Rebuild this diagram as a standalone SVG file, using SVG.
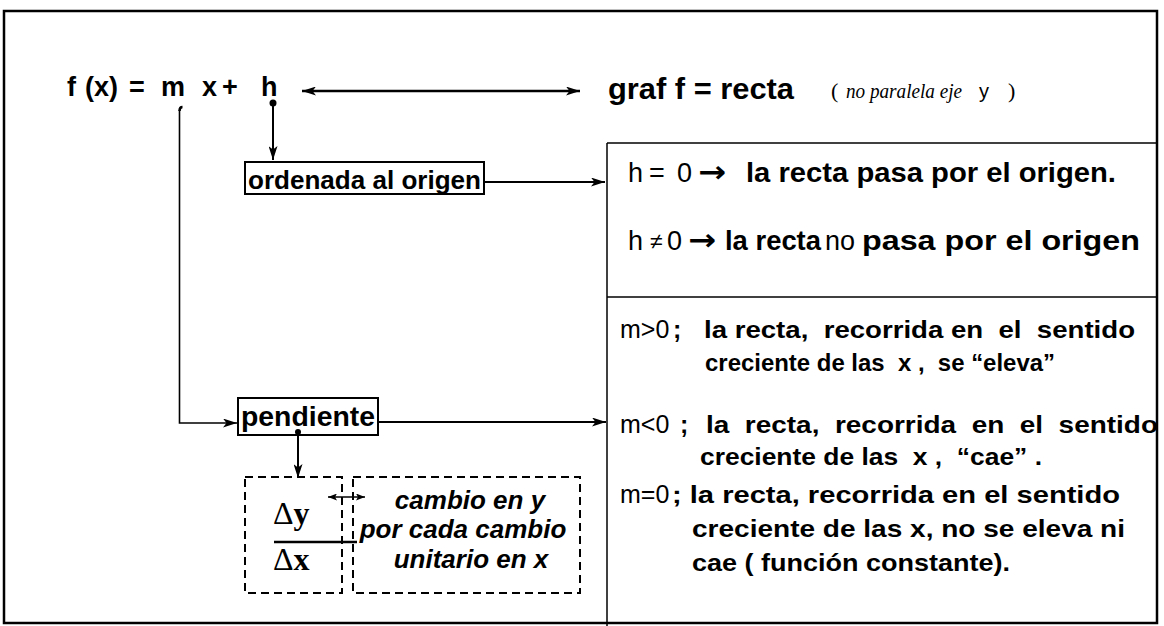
<svg xmlns="http://www.w3.org/2000/svg" width="1164" height="626" viewBox="0 0 1164 626">
<style>
.sb{font-family:"Liberation Sans",Arial,sans-serif;font-weight:bold;fill:#000;white-space:pre}
.sr{font-family:"Liberation Sans",Arial,sans-serif;font-weight:normal;fill:#000;white-space:pre}
.sbi{font-family:"Liberation Sans",Arial,sans-serif;font-weight:bold;font-style:italic;fill:#000;white-space:pre}
.ar{font-family:"DejaVu Sans",sans-serif;font-weight:bold;fill:#000}
.ti{font-family:"Liberation Serif","Times New Roman",serif;font-style:italic;fill:#000;white-space:pre}
.tr{font-family:"Liberation Serif","Times New Roman",serif;fill:#000;white-space:pre}
.tb{font-family:"Liberation Serif","Times New Roman",serif;font-weight:bold;fill:#000}
.ln{stroke:#000;fill:none}
.dash{stroke:#000;fill:none;stroke-width:2;stroke-dasharray:8 5}
</style>
<defs>
<marker id="ah" viewBox="0 0 14 9" refX="14" refY="4.5" markerWidth="14" markerHeight="9" markerUnits="userSpaceOnUse" orient="auto-start-reverse">
<path d="M0,0 L14,4.5 L0,9 L3.5,4.5 z" fill="#000"/>
</marker>
<marker id="ahs" viewBox="0 0 9 7" refX="9" refY="3.5" markerWidth="9" markerHeight="7" markerUnits="userSpaceOnUse" orient="auto-start-reverse">
<path d="M0,0 L9,3.5 L0,7 L2,3.5 z" fill="#000"/>
</marker>
</defs>
<rect x="0" y="0" width="1164" height="626" fill="#fff"/>
<g id="frame">
<rect x="4" y="11" width="1153" height="612" fill="none" stroke="#000" stroke-width="2.5"/>
</g>
<g id="panel">
<line class="ln" x1="607" y1="143" x2="1157" y2="143" stroke-width="1.5"/>
<line class="ln" x1="607" y1="143" x2="607" y2="626" stroke-width="1.5"/>
<line class="ln" x1="607" y1="297" x2="1157" y2="297" stroke-width="1.5"/>
</g>
<g id="formula">
<text class="sb" font-size="27" x="67" y="96">f</text>
<text class="sb" font-size="27" x="85" y="96">(x)</text>
<text class="sb" font-size="27" x="129" y="96">=</text>
<text class="sb" font-size="27" x="161" y="96">m</text>
<text class="sb" font-size="27" x="202" y="96">x</text>
<text class="sb" font-size="27" x="222" y="96">+</text>
<text class="sb" font-size="27" x="261" y="96">h</text>
</g>
<g id="graf">
<text class="sb" font-size="29" x="608" y="99" textLength="186" lengthAdjust="spacingAndGlyphs">graf f = recta</text>
<text class="tr" font-size="22" x="831" y="98">(</text>
<text class="ti" font-size="22" x="846" y="98" textLength="116" lengthAdjust="spacingAndGlyphs">no paralela eje</text>
<text class="sr" font-size="20" x="979" y="98">y</text>
<text class="tr" font-size="22" x="1008" y="98">)</text>
</g>
<g id="ordenada">
<rect x="245" y="162" width="239" height="32" fill="none" stroke="#000" stroke-width="2"/>
<text class="sb" font-size="26" x="248" y="189" textLength="233" lengthAdjust="spacingAndGlyphs">ordenada al origen</text>
</g>
<g id="pendiente">
<rect x="238" y="398" width="140" height="37" fill="none" stroke="#000" stroke-width="2"/>
<text class="sb" font-size="28" x="241" y="426" textLength="134" lengthAdjust="spacingAndGlyphs">pendiente</text>
</g>
<g id="delta">
<rect class="dash" x="245" y="477" width="97" height="116"/>
<text class="tb" font-size="32" x="273" y="524"><tspan font-weight="normal">Δ</tspan>y</text>
<line class="ln" x1="274" y1="542" x2="357" y2="542" stroke-width="2.5"/>
<text class="tb" font-size="32" x="273" y="570"><tspan font-weight="normal">Δ</tspan>x</text>
</g>
<g id="cambio">
<rect class="dash" x="353" y="477" width="227" height="116"/>
<text class="sbi" font-size="26" x="470" y="509" text-anchor="middle">cambio en y</text>
<text class="sbi" font-size="26" x="463" y="538" text-anchor="middle">por cada cambio</text>
<text class="sbi" font-size="26" x="471" y="568" text-anchor="middle">unitario en x</text>
</g>
<g id="h-cases">
<text class="sr" font-size="27" x="628" y="182">h</text>
<text class="sr" font-size="27" x="649" y="182">=</text>
<text class="sr" font-size="27" x="677" y="182">0</text>
<text class="ar" font-size="30" x="698" y="182" textLength="28" lengthAdjust="spacingAndGlyphs">→</text>
<text class="sb" font-size="28" x="746" y="182" textLength="370" lengthAdjust="spacingAndGlyphs">la recta pasa por el origen.</text>
<text class="sr" font-size="27" x="628" y="250">h</text>
<text class="sr" font-size="23" x="650" y="249">≠</text>
<text class="sr" font-size="27" x="667" y="250">0</text>
<text class="ar" font-size="30" x="688" y="250" textLength="28" lengthAdjust="spacingAndGlyphs">→</text>
<text class="sb" font-size="28" x="725" y="250" textLength="96" lengthAdjust="spacingAndGlyphs">la recta</text>
<text class="sr" font-size="27" x="825" y="250">no</text>
<text class="sb" font-size="28" x="862" y="250" textLength="278" lengthAdjust="spacingAndGlyphs">pasa por el origen</text>
</g>
<g id="m-cases">
<text class="sr" font-size="25" x="620" y="338">m&gt;0</text>
<text class="sb" font-size="25" x="673" y="338">;</text>
<text class="sb" font-size="24" x="704" y="338" textLength="431" lengthAdjust="spacingAndGlyphs">la recta,  recorrida en  el  sentido</text>
<text class="sb" font-size="24" x="705" y="371" textLength="350" lengthAdjust="spacingAndGlyphs">creciente de las  x ,  se “eleva”</text>
<text class="sr" font-size="25" x="620" y="433">m&lt;0</text>
<text class="sb" font-size="25" x="680" y="433">;</text>
<text class="sb" font-size="24" x="706" y="433" textLength="452" lengthAdjust="spacingAndGlyphs">la  recta,  recorrida  en  el  sentido</text>
<text class="sb" font-size="24" x="700" y="465" textLength="342" lengthAdjust="spacingAndGlyphs">creciente de las  x ,  “cae” .</text>
<text class="sr" font-size="25" x="620" y="503">m=0</text>
<text class="sb" font-size="24" x="672" y="503" textLength="448" lengthAdjust="spacingAndGlyphs">; la recta, recorrida en el sentido</text>
<text class="sb" font-size="24" x="692" y="537" textLength="433" lengthAdjust="spacingAndGlyphs">creciente de las x, no se eleva ni</text>
<text class="sb" font-size="24" x="692" y="571" textLength="318" lengthAdjust="spacingAndGlyphs">cae ( función constante).</text>
</g>
<g id="connectors">
<line class="ln" x1="302" y1="91" x2="580" y2="91" stroke-width="2.5" marker-start="url(#ah)" marker-end="url(#ah)"/>
<circle cx="273" cy="103" r="3.5" fill="#000"/>
<line class="ln" x1="273" y1="103" x2="273" y2="160" stroke-width="2" marker-end="url(#ah)"/>
<line class="ln" x1="484" y1="182" x2="605" y2="182" stroke-width="2" marker-end="url(#ah)"/>
<path class="ln" d="M179.5,111 q0,-4 3,-4" stroke-width="2.5"/>
<path class="ln" d="M179.5,110 V423 H237" stroke-width="1.6" marker-end="url(#ah)"/>
<line class="ln" x1="378" y1="422" x2="606" y2="422" stroke-width="2" marker-end="url(#ah)"/>
<circle cx="298" cy="432" r="3" fill="#000"/>
<line class="ln" x1="298" y1="432" x2="298" y2="478" stroke-width="2" marker-end="url(#ah)"/>
<line class="ln" x1="328" y1="497" x2="365" y2="497" stroke-width="1.6" marker-start="url(#ahs)" marker-end="url(#ahs)"/>
</g>
</svg>
